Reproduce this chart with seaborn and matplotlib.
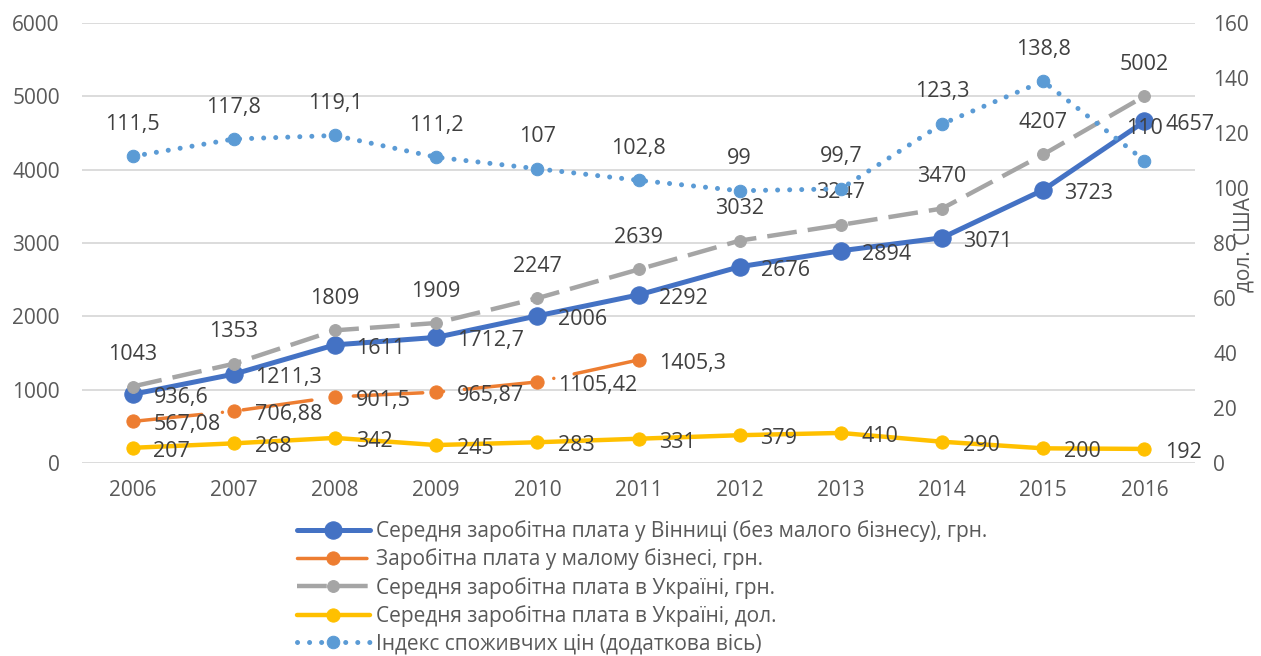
import pandas as pd
import seaborn as sns
import matplotlib.pyplot as plt

# Дані з графіка
years = [2006, 2007, 2008, 2009, 2010, 2011, 2012, 2013, 2014, 2015, 2016]
vinnytsia_grn = [936.6, 1211.3, 1611, 1712.7, 2006, 2292, 2676, 2894, 3071, 3723, 4657]
small_business_years = [2006, 2007, 2008, 2009, 2010, 2011]
small_business_grn = [567.08, 706.88, 901.5, 965.87, 1105.42, 1405.3]
ukraine_grn = [1043, 1353, 1809, 1909, 2247, 2639, 3032, 3247, 3470, 4207, 5002]
ukraine_usd = [207, 268, 342, 245, 283, 331, 379, 410, 290, 200, 192]
cpi = [111.5, 117.8, 119.1, 111.2, 107, 102.8, 99, 99.7, 123.3, 138.8, 110]

labels = [
    "Середня заробітна плата у Вінниці (без малого бізнесу), грн.",
    "Заробітна плата у малому бізнесі, грн.",
    "Середня заробітна плата в Україні, грн.",
    "Середня заробітна плата в Україні, дол.",
    "Індекс споживчих цін (додаткова вісь)",
]

sns.set_theme(style="white")
plt.rcParams["font.family"] = ["Open Sans", "DejaVu Sans"]

df = pd.DataFrame({"year": years, "vin": vinnytsia_grn, "ukr": ukraine_grn,
                   "usd": ukraine_usd, "cpi": cpi})
df_small = pd.DataFrame({"year": small_business_years, "small": small_business_grn})

fig = plt.figure(figsize=(12.61, 6.56), dpi=100)
ax = fig.add_axes([82 / 1261, 1 - 463 / 656, (1195 - 82) / 1261, (463 - 23) / 656])
ax2 = ax.twinx()

label_color = "#404040"
tick_color = "#595959"


def fmt(v):
    return f"{v:g}".replace(".", ",")


def add_labels(axis, xs, ys, pos):
    for x, y in zip(xs, ys):
        if pos == "right":
            axis.annotate(fmt(y), (x, y), xytext=(15, -2.5), textcoords="offset points",
                          ha="left", va="center", fontsize=15.5, color=label_color)
        else:
            axis.annotate(fmt(y), (x, y), xytext=(0, 23), textcoords="offset points",
                          ha="center", va="center", fontsize=15.5, color=label_color)


# Вінниця
sns.lineplot(data=df, x="year", y="vin", ax=ax, color="#4472C4", lw=3.6,
             marker="o", markersize=12.5, markeredgecolor="#4472C4", label=labels[0])
# малий бізнес
sns.lineplot(data=df_small, x="year", y="small", ax=ax, color="#ED7D31", lw=2.5,
             marker="o", markersize=9.5, markeredgecolor="#ED7D31",
             linestyle=(0, (20, 6, 0.01, 6)), dash_capstyle="round", label=labels[1])
# Україна, грн
sns.lineplot(data=df, x="year", y="ukr", ax=ax, color="#A5A5A5", lw=3.2,
             marker="o", markersize=8.5, markeredgecolor="#A5A5A5",
             linestyle=(0, (6.7, 2.5)), label=labels[2])
# Україна, дол
sns.lineplot(data=df, x="year", y="usd", ax=ax, color="#FFC000", lw=3.2,
             marker="o", markersize=9.5, markeredgecolor="#FFC000", label=labels[3])
# ІСЦ
sns.lineplot(data=df, x="year", y="cpi", ax=ax2, color="#5B9BD5", lw=3.6,
             marker="o", markersize=9, markeredgecolor="#5B9BD5",
             linestyle=(0, (0.01, 2.4)), dash_capstyle="round", label=labels[4])

add_labels(ax, years, vinnytsia_grn, "right")
add_labels(ax, small_business_years, small_business_grn, "right")
add_labels(ax, years, ukraine_grn, "above")
add_labels(ax, years, ukraine_usd, "right")
add_labels(ax2, years, cpi, "above")

for a in (ax, ax2):
    if a.get_legend() is not None:
        a.get_legend().remove()
    for s in a.spines.values():
        s.set_visible(False)
    a.set_xlabel("")
    a.set_ylabel("")

ax.set_xlim(2005.5, 2016.5)
ax.set_xticks(years)
ax.set_ylim(0, 6000)
ax.set_yticks(range(0, 6001, 1000))
ax2.set_ylim(0, 160)
ax2.set_yticks(range(0, 161, 20))
ax.grid(axis="y", color="#D9D9D9", lw=1.3)
ax.grid(axis="x", visible=False)
ax2.grid(False)
ax.set_axisbelow(True)

ax.tick_params(axis="x", length=0, pad=12, labelsize=15, labelcolor=tick_color)
ax.tick_params(axis="y", length=0, pad=16, labelsize=15, labelcolor=tick_color)
ax2.tick_params(axis="y", length=0, pad=13, labelsize=15, labelcolor=tick_color)

fig.text(1244 / 1261, 1 - 244 / 656, "дол. США", rotation=90, ha="center", va="center",
         fontsize=15, color=tick_color)

handles = ax.get_lines()[:4] + ax2.get_lines()[:1]
fig.legend(handles, labels, loc="upper left", bbox_to_anchor=(297 / 1261, 1 - 520 / 656),
           frameon=False, fontsize=15, handlelength=3.5, handletextpad=0.3,
           labelspacing=0.31, borderpad=0, borderaxespad=0, labelcolor=tick_color)

plt.savefig("out.png", dpi=100)
